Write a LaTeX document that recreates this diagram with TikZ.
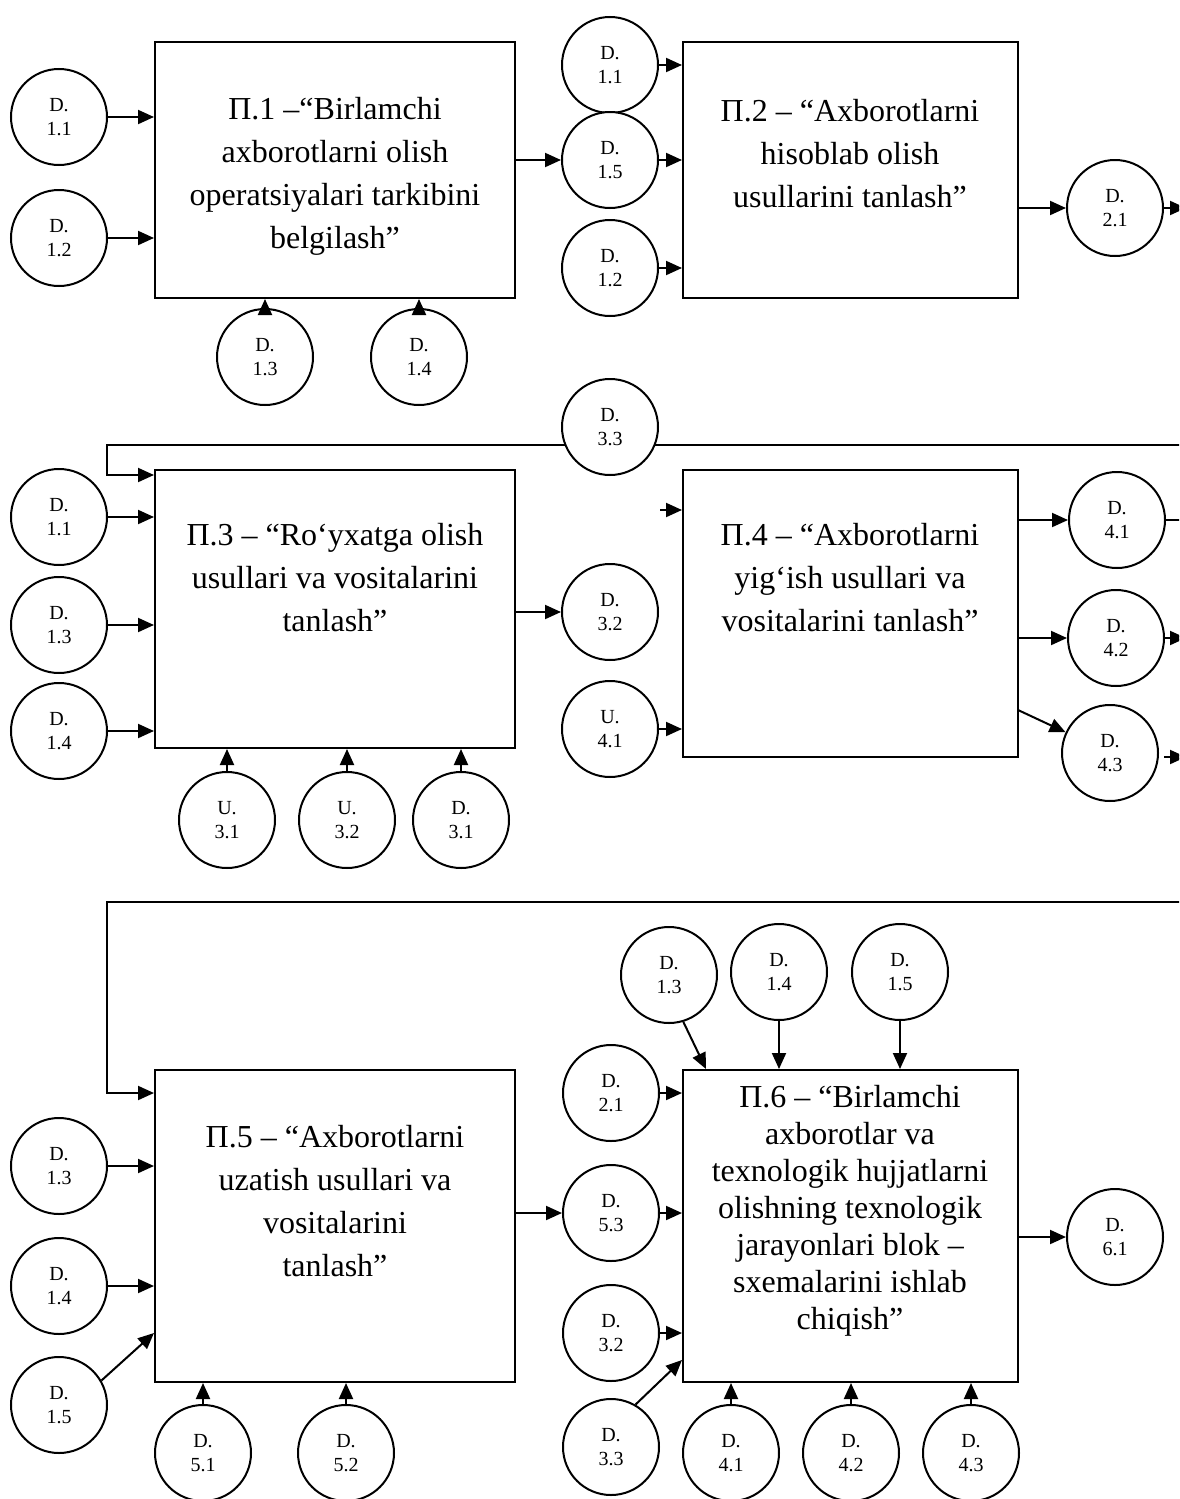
\documentclass[tikz,border=0pt]{standalone}
\usepackage{fontspec}
\setmainfont{Liberation Serif}
\usetikzlibrary{arrows.meta}
\begin{document}
\begin{tikzpicture}[x=1pt,y=-1pt,
  ln/.style={line width=2pt},
  arr/.style={line width=2pt,-{Triangle[length=16pt,width=14pt]}},
  circ/.style={circle,draw,line width=2pt,fill=white,minimum size=96pt,inner sep=0pt,align=center,font=\fontsize{20}{24}\selectfont},
  proc/.style={draw,line width=2pt,inner sep=0pt},
  ptext/.style={align=center,font=\fontsize{32}{43}\selectfont,inner sep=0pt},
  ptextb/.style={align=center,font=\fontsize{32}{37}\selectfont,inner sep=0pt},
]
\useasboundingbox (0,0) rectangle (1179,1499);
\clip (0,0) rectangle (1179,1499);
\fill[white] (0,0) rectangle (1179,1499);

% ---------- process boxes ----------
\node[proc,minimum width=360pt,minimum height=256pt] (P1) at (335,170) {};
\node[proc,minimum width=335pt,minimum height=256pt] (P2) at (850.5,170) {};
\node[proc,minimum width=360pt,minimum height=278pt] (P3) at (335,609) {};
\node[proc,minimum width=335pt,minimum height=287pt] (P4) at (850.5,613.5) {};
\node[proc,minimum width=360pt,minimum height=312pt] (P5) at (335,1226) {};
\node[proc,minimum width=335pt,minimum height=312pt] (P6) at (850.5,1226) {};

\node[ptext] (T1) at (335,176) {Π.1 –“Birlamchi\\axborotlarni olish\\operatsiyalari tarkibini\\belgilash”};
\node[ptext] (T2) at (850,154) {Π.2 – “Axborotlarni\\hisoblab olish\\usullarini tanlash”};
\node[ptext] (T3) at (335,578) {Π.3 – “Ro‘yxatga olish\\usullari va vositalarini\\tanlash”};
\node[ptext] (T4) at (850,578) {Π.4 – “Axborotlarni\\yig‘ish usullari va\\vositalarini tanlash”};
\node[ptext] (T5) at (335,1201) {Π.5 – “Axborotlarni\\uzatish usullari va\\vositalarini\\tanlash”};
\node[ptextb] (T6) at (850,1211) {Π.6 – “Birlamchi\\axborotlar va\\texnologik hujjatlarni\\olishning texnologik\\jarayonlari blok –\\sxemalarini ishlab\\chiqish”};

% ---------- feedback lines (drawn before circles) ----------
\coordinate (l1) at (1182,445);
\coordinate (l2) at (107,445);
\coordinate (l3) at (107,475);
\draw[arr] (l1) -- (l2) -- (l3) -- (P3.west |- l3);
\coordinate (k1) at (1182,902);
\coordinate (k2) at (107,902);
\coordinate (k3) at (107,1093);
\draw[arr] (k1) -- (k2) -- (k3) -- (P5.west |- k3);

% ---------- top section circles ----------
\node[circ] (a11) at (59,117) {D.\\1.1};
\node[circ] (a12) at (59,238) {D.\\1.2};
\node[circ] (a13) at (265,357) {D.\\1.3};
\node[circ] (a14) at (419,357) {D.\\1.4};
\node[circ] (b11) at (610,65) {D.\\1.1};
\node[circ] (b15) at (610,160) {D.\\1.5};
\node[circ] (b12) at (610,268) {D.\\1.2};
\node[circ] (c21) at (1115,208) {D.\\2.1};

\draw[arr] (a11) -- (P1.west |- a11);
\draw[arr] (a12) -- (P1.west |- a12);
\draw[arr] (a13) -- (P1.south -| a13);
\draw[arr] (a14) -- (P1.south -| a14);
\draw[arr] (P1.east |- b15) -- (b15);
\draw[arr] (b11) -- (P2.west |- b11);
\draw[arr] (b15) -- (P2.west |- b15);
\draw[arr] (b12) -- (P2.west |- b12);
\draw[arr] (P2.east |- c21) -- (c21);
\coordinate (o21) at (1186,208);
\draw[arr] (c21) -- (o21);

% ---------- middle section circles ----------
\node[circ] (d33) at (610,427) {D.\\3.3};
\node[circ] (m11) at (59,517) {D.\\1.1};
\node[circ] (m13) at (59,625) {D.\\1.3};
\node[circ] (m14) at (59,731) {D.\\1.4};
\node[circ] (u31) at (227,820) {U.\\3.1};
\node[circ] (u32) at (347,820) {U.\\3.2};
\node[circ] (m31) at (461,820) {D.\\3.1};
\node[circ] (d32) at (610,612) {D.\\3.2};
\node[circ] (u41) at (610,729) {U.\\4.1};
\node[circ] (e41) at (1117,520) {D.\\4.1};
\node[circ] (e42) at (1116,638) {D.\\4.2};
\node[circ] (e43) at (1110,753) {D.\\4.3};

\draw[arr] (m11) -- (P3.west |- m11);
\draw[arr] (m13) -- (P3.west |- m13);
\draw[arr] (m14) -- (P3.west |- m14);
\draw[arr] (u31) -- (P3.south -| u31);
\draw[arr] (u32) -- (P3.south -| u32);
\draw[arr] (m31) -- (P3.south -| m31);
\draw[arr] (P3.east |- d32) -- (d32);
\draw[arr] (u41) -- (P4.west |- u41);
\coordinate (lone) at (660,510);
\draw[arr] (lone) -- (P4.west |- lone);
\draw[arr] (P4.east |- e41) -- (e41);
\draw[arr] (P4.east |- e42) -- (e42);
\coordinate (s43) at (1018,710);
\draw[arr] (s43) -- (e43);
\coordinate (o41) at (1182,520);
\draw[ln] (e41) -- (o41);
\coordinate (o42) at (1186,638);
\draw[arr] (e42) -- (o42);
\coordinate (q43) at (1164,757);
\coordinate (o43) at (1186,757);
\draw[arr] (q43) -- (o43);

% ---------- bottom section circles ----------
\node[circ] (f13) at (59,1166) {D.\\1.3};
\node[circ] (f14) at (59,1286) {D.\\1.4};
\node[circ] (f15) at (59,1405) {D.\\1.5};
\node[circ] (g51) at (203,1453) {D.\\5.1};
\node[circ] (g52) at (346,1453) {D.\\5.2};
\node[circ] (h21) at (611,1093) {D.\\2.1};
\node[circ] (h53) at (611,1213) {D.\\5.3};
\node[circ] (h32) at (611,1333) {D.\\3.2};
\node[circ] (h33) at (611,1447) {D.\\3.3};
\node[circ] (k41) at (731,1453) {D.\\4.1};
\node[circ] (k42) at (851,1453) {D.\\4.2};
\node[circ] (k43) at (971,1453) {D.\\4.3};
\node[circ] (t13) at (669,975) {D.\\1.3};
\node[circ] (t14) at (779,972) {D.\\1.4};
\node[circ] (t15) at (900,972) {D.\\1.5};
\node[circ] (s61) at (1115,1237) {D.\\6.1};

\draw[arr] (f13) -- (P5.west |- f13);
\draw[arr] (f14) -- (P5.west |- f14);
\coordinate (y15) at (0,1333);
\draw[arr] (f15.30) -- (P5.west |- y15);
\draw[arr] (g51) -- (P5.south -| g51);
\draw[arr] (g52) -- (P5.south -| g52);
\draw[arr] (P5.east |- h53) -- (h53);
\draw[arr] (h21) -- (P6.west |- h21);
\draw[arr] (h53) -- (P6.west |- h53);
\draw[arr] (h32) -- (P6.west |- h32);
\coordinate (y33) at (0,1360);
\draw[arr] (h33.60) -- (P6.west |- y33);
\draw[arr] (k41) -- (P6.south -| k41);
\draw[arr] (k42) -- (P6.south -| k42);
\draw[arr] (k43) -- (P6.south -| k43);
\coordinate (x13) at (706,0);
\draw[arr] (t13.-73) -- (P6.north -| x13);
\draw[arr] (t14) -- (P6.north -| t14);
\draw[arr] (t15) -- (P6.north -| t15);
\draw[arr] (P6.east |- s61) -- (s61);
\end{tikzpicture}
\end{document}
